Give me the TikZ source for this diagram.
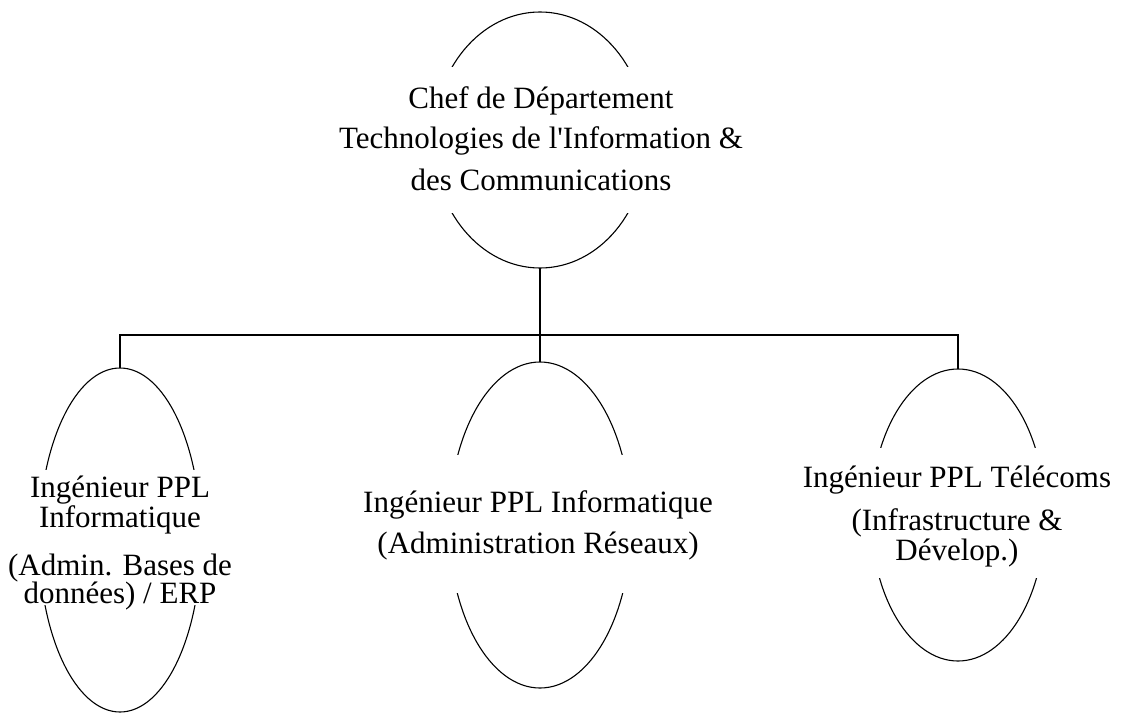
\documentclass[tikz,border=0pt]{standalone}
\usepackage{fontspec}
\setmainfont{Liberation Serif}[Ligatures=TeXOff]
\usetikzlibrary{shapes.geometric}
\tikzset{
  ell/.style={ellipse, draw=black, line width=1.1pt, inner sep=0pt, outer sep=0pt},
  band/.style={fill=white, draw=none, inner sep=0pt, outer sep=0pt},
  txt/.style={anchor=base, inner sep=0pt, font=\fontsize{31}{31}\selectfont},
  conn/.style={draw=black, line width=1.1pt}
}
\begin{document}
\begin{tikzpicture}[x=1pt,y=-1pt]
\useasboundingbox[fill=white] (0,0) rectangle (1122,717);
% ellipses
\node[ell, minimum width=214pt, minimum height=256pt] (chef) at (540,140) {};
\node[ell, minimum width=162pt, minimum height=344pt] (bdd) at (120,540) {};
\node[ell, minimum width=182pt, minimum height=326pt] (res) at (540,525) {};
\node[ell, minimum width=174pt, minimum height=292pt] (tel) at (958,515) {};
% white bands hiding the middle of each outline
\node[band, minimum width=240pt, minimum height=146pt] (chefband) at (540,140) {};
\node[band, minimum width=190pt, minimum height=135pt] (bddband) at (120,537.5) {};
\node[band, minimum width=210pt, minimum height=138pt] (resband) at (540,524) {};
\node[band, minimum width=200pt, minimum height=130pt] (telband) at (958,513) {};
% texts
\node[txt] (chef1) at (541,108) {Chef de Département};
\node[txt] (chef2) at (541,148) {Technologies de l'Information \&};
\node[txt] (chef3) at (541,190) {des Communications};
\node[txt] (bdd1) at (120,497) {Ingénieur PPL};
\node[txt] (bdd2) at (120,527) {Informatique};
\node[txt] (bdd3) at (120,575) {(Admin. Bases de};
\node[txt] (bdd4) at (120,603) {données) / ERP};
\node[txt] (res1) at (538,512) {Ingénieur PPL Informatique};
\node[txt] (res2) at (538,553) {(Administration Réseaux)};
\node[txt] (tel1) at (957,487) {Ingénieur PPL Télécoms};
\node[txt] (tel2) at (957,530) {(Infrastructure \&};
\node[txt] (tel3) at (957,560) {Dévelop.)};
% connectors
\coordinate (bus) at (540,335);
\draw[conn] (chef.south) -- (bus);
\draw[conn] (bus) -| (bdd.north);
\draw[conn] (bus) -| (tel.north);
\draw[conn] (bus) -- (res.north);
\end{tikzpicture}
\end{document}
